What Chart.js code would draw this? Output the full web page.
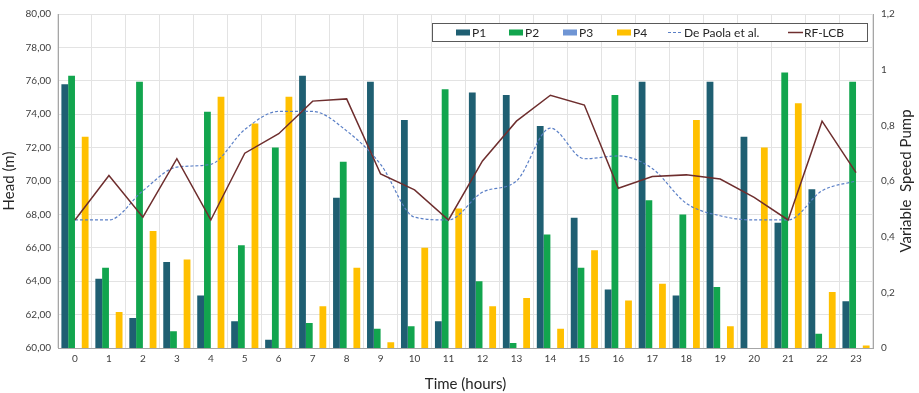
<!DOCTYPE html>
<html><head><meta charset="utf-8">
<script src="https://cdn.jsdelivr.net/npm/chart.js@4/dist/chart.umd.min.js"></script>
<style>html,body{margin:0;padding:0;background:#fff}#wrap{width:919px;height:393px}</style>
</head><body><div id="wrap"><canvas id="c" width="919" height="393"></canvas></div>
<script>
const categories = ['0','1','2','3','4','5','6','7','8','9','10','11','12','13','14','15','16','17','18','19','20','21','22','23'];
const p1 = [75.8, 64.15, 61.8, 65.15, 63.15, 61.6, 60.5, 76.3, 69.0, 75.95, 73.65, 61.6, 75.3, 75.15, 73.3, 67.8, 63.5, 75.95, 63.15, 75.95, 72.65, 67.5, 69.5, 62.8];
const p2 = [76.3, 64.8, 75.95, 61.0, 74.15, 66.15, 72.0, 61.5, 71.15, 61.15, 61.3, 75.5, 64.0, 60.3, 66.8, 64.8, 75.15, 68.85, 68.0, 63.65, null, 76.5, 60.85, 75.95];
const p3 = [null, null, null, null, null, null, null, null, null, null, null, null, null, null, null, null, null, null, null, null, null, null, null, null];
const p4 = [72.65, 62.15, 67.0, 65.3, 75.05, 73.45, 75.05, 62.5, 64.8, 60.35, 66.0, 68.35, 62.5, 63.0, 61.15, 65.85, 62.85, 63.85, 73.65, 61.3, 72.0, 74.65, 63.35, 60.15];
const dePaola = [0.46, 0.46, 0.565, 0.65, 0.66, 0.785, 0.85, 0.85, 0.78, 0.66, 0.47, 0.46, 0.56, 0.6, 0.79, 0.68, 0.69, 0.645, 0.52, 0.475, 0.46, 0.46, 0.565, 0.6];
const rfLcb = [0.46, 0.62, 0.47, 0.68, 0.46, 0.70, 0.77, 0.887, 0.895, 0.625, 0.568, 0.46, 0.672, 0.815, 0.908, 0.873, 0.574, 0.616, 0.622, 0.607, 0.541, 0.46, 0.815, 0.63];
const headTicks = ['60,00','62,00','64,00','66,00','68,00','70,00','72,00','74,00','76,00','78,00','80,00'];
const pumpTicks = ['0','0,2','0,4','0,6','0,8','1','1,2'];
const rightTitle = 'Variable  Speed Pump';

const FONT = 'Lato, "Open Sans", sans-serif';
const TXT = '#404040';

const legendBox = {
  id: 'legendBox',
  afterDatasetsDraw(chart) {
    const ctx = chart.ctx;
    const box = {x: 432.5, y: 23.5, w: 435, h: 18};
    ctx.save();
    ctx.fillStyle = '#fff';
    ctx.fillRect(box.x, box.y, box.w, box.h);
    ctx.strokeStyle = '#595959';
    ctx.lineWidth = 1;
    ctx.strokeRect(box.x, box.y, box.w, box.h);
    const xs = [456, 509, 563, 617, 668, 788];
    const cy = box.y + box.h / 2;
    ctx.font = '12px ' + FONT;
    ctx.textBaseline = 'middle';
    chart.data.datasets.forEach((ds, i) => {
      const x = xs[i];
      if (ds.type === 'line') {
        ctx.strokeStyle = ds.borderColor;
        ctx.lineWidth = ds.borderWidth;
        ctx.setLineDash(ds.borderDash || []);
        ctx.beginPath(); ctx.moveTo(x, cy); ctx.lineTo(x + 15, cy); ctx.stroke();
        ctx.setLineDash([]);
      } else {
        ctx.fillStyle = ds.backgroundColor;
        ctx.fillRect(x, cy - 3, 14, 6);
      }
      ctx.fillStyle = '#262626';
      ctx.fillText(ds.label, x + 16, cy + 0.5);
    });
    ctx.restore();
  },
  afterDraw(chart) {
    const ctx = chart.ctx;
    const a = chart.chartArea;
    ctx.save();
    ctx.translate(906, (a.top + a.bottom) / 2);
    ctx.rotate(-Math.PI / 2);
    ctx.font = '15px ' + FONT;
    ctx.fillStyle = '#262626';
    ctx.textAlign = 'center';
    ctx.textBaseline = 'middle';
    ctx.fillText(rightTitle, 0, 0);
    ctx.restore();
  }
};

new Chart(document.getElementById('c'), {
  data: {
    labels: categories,
    datasets: [
      {type: 'bar', label: 'P1', data: p1, backgroundColor: '#1f5f72', yAxisID: 'y', order: 2},
      {type: 'bar', label: 'P2', data: p2, backgroundColor: '#12a54e', yAxisID: 'y', order: 2},
      {type: 'bar', label: 'P3', data: p3, backgroundColor: '#6f95d4', yAxisID: 'y', order: 2},
      {type: 'bar', label: 'P4', data: p4, backgroundColor: '#ffc000', yAxisID: 'y', order: 2},
      {type: 'line', label: 'De Paola et al.', data: dePaola, borderColor: '#5a7fc6', borderWidth: 1.2, borderDash: [3, 2], pointRadius: 0, cubicInterpolationMode: 'monotone', yAxisID: 'y1', order: 1},
      {type: 'line', label: 'RF-LCB', data: rfLcb, borderColor: '#6e2e2e', borderWidth: 1.5, pointRadius: 0, tension: 0, yAxisID: 'y1', order: 0}
    ]
  },
  options: {
    responsive: false,
    animation: false,
    devicePixelRatio: 1,
    layout: {padding: {top: 12, left: 0, right: 0, bottom: 0}},
    datasets: {bar: {categoryPercentage: 0.8, barPercentage: 1.0}},
    plugins: {legend: {display: false}, tooltip: {enabled: false}},
    scales: {
      x: {
        offset: true,
        grid: {offset: true, color: '#e3e3e3', drawTicks: false},
        border: {color: '#a6a6a6'},
        ticks: {color: TXT, font: {family: FONT, size: 10}, padding: 5, maxRotation: 0},
        title: {display: true, text: 'Time (hours)', color: '#262626', font: {family: FONT, size: 15}, padding: {top: 0, bottom: 0}},
        afterFit(s) { s.height = 45; }
      },
      y: {
        position: 'left', min: 60, max: 80,
        grid: {color: '#e3e3e3', drawTicks: false},
        border: {color: '#a6a6a6'},
        ticks: {stepSize: 2, color: TXT, font: {family: FONT, size: 10}, padding: 7,
          callback: (v, i) => headTicks[i]},
        title: {display: true, text: 'Head (m)', color: '#262626', font: {family: FONT, size: 15}, padding: {top: 0, bottom: 0}},
        afterFit(s) { s.width = 58; }
      },
      y1: {
        position: 'right', min: 0, max: 1.2,
        grid: {drawOnChartArea: false, drawTicks: false},
        border: {color: '#a6a6a6'},
        ticks: {stepSize: 0.2, color: TXT, font: {family: FONT, size: 10}, padding: 8,
          callback: (v, i) => pumpTicks[i]},
        title: {display: false},
        afterFit(s) { s.width = 46; }
      }
    }
  },
  plugins: [legendBox]
});
</script></body></html>
